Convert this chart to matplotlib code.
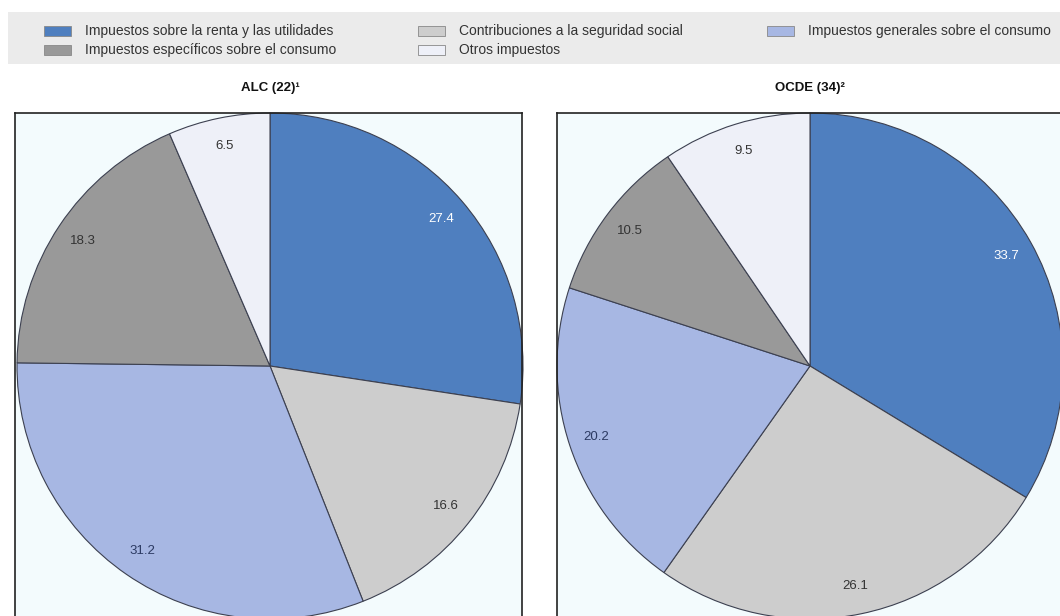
import matplotlib
matplotlib.use('Agg')
import matplotlib.pyplot as plt
from matplotlib.patches import Rectangle

plt.rcParams['font.family'] = ['Liberation Sans', 'DejaVu Sans']

# categories, clockwise from 12 o'clock
categorias = ['Impuestos sobre la renta y las utilidades',
              'Contribuciones a la seguridad social',
              'Impuestos generales sobre el consumo',
              'Impuestos específicos sobre el consumo',
              'Otros impuestos']
colores = ['#4f7fbf', '#cdcdcd', '#a7b7e3', '#999999', '#eef0f8']
color_etiqueta = ['white', '#333333', '#2c3a62', '#333333', '#333333']

alc = [27.4, 16.6, 31.2, 18.3, 6.5]
ocde = [33.7, 26.1, 20.2, 10.5, 9.5]
titulos = ['ALC (22)¹', 'OCDE (34)²']

W, H = 1060, 616
fig = plt.figure(figsize=(W / 100, H / 100), dpi=100)


def fx(px):
    return px / W


def fy(py):
    return 1 - py / H


# legend band
fig.patches.append(Rectangle((fx(8), fy(64)), fx(1060 - 8), 52 / H,
                             transform=fig.transFigure, facecolor='#ebebeb',
                             edgecolor='none', zorder=0))
# (category index, patch x, row y)
leg_pos = [(0, 44, 31), (3, 44, 50), (1, 418, 31), (4, 418, 50), (2, 767, 31)]
for idx, x0, y0 in leg_pos:
    fig.patches.append(Rectangle((fx(x0), fy(y0 + 5)), fx(27), 10 / H,
                                 transform=fig.transFigure,
                                 facecolor=colores[idx], edgecolor='#888888',
                                 linewidth=0.6, zorder=1))
    fig.text(fx(x0 + 41), fy(y0), categorias[idx], fontsize=10,
             color='#333333', va='center', ha='left')

R = 253.0
paneles = [(alc, 15, 522, 270), (ocde, 557, 1070, 810)]
for i, (vals, x_l, x_r, cx) in enumerate(paneles):
    top, bot, cy = 113, 625, 366
    ax = fig.add_axes([fx(x_l), fy(bot), (x_r - x_l) / W, (bot - top) / H])
    wedges, texts = ax.pie(vals, colors=colores, startangle=90,
                           counterclock=False, radius=1,
                           labels=[f'{v:.1f}' for v in vals],
                           labeldistance=0.89,
                           wedgeprops=dict(edgecolor='#3c4050', linewidth=0.8),
                           textprops=dict(fontsize=9.5))
    for k, t in enumerate(texts):
        t.set_ha('center')
        t.set_va('center')
        t.set_color(color_etiqueta[k])
    ax.set_aspect('auto')
    ax.set_xlim((x_l - cx) / R, (x_r - cx) / R)
    ax.set_ylim(-(bot - cy) / R, (cy - top) / R)
    ax.set_frame_on(True)
    ax.set_facecolor('#f3fbfd')
    for s in ax.spines.values():
        s.set_color('#222222')
        s.set_linewidth(1.2)
    ax.set_xticks([])
    ax.set_yticks([])
    fig.text(fx(cx), fy(88), titulos[i], fontsize=9.5, fontweight='bold',
             ha='center', va='center', color='#111111')

fig.savefig('out.png', dpi=100, facecolor='white')
